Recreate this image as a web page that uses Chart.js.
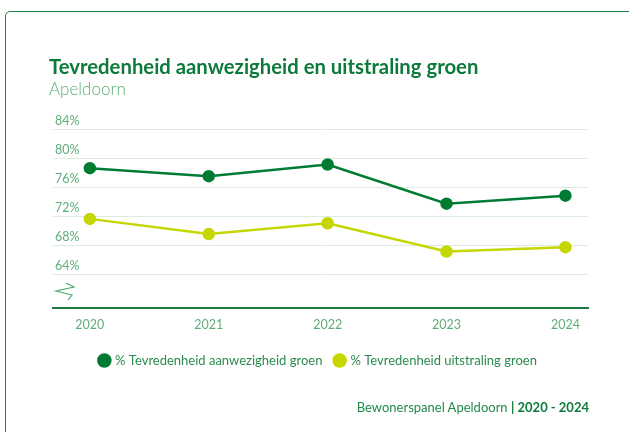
<!DOCTYPE html>
<html>
<head>
<meta charset="utf-8">
<script src="https://cdn.jsdelivr.net/npm/chart.js@4"></script>
<style>
  html, body { margin: 0; padding: 0; background: #fff; }
  #wrap { position: relative; width: 629px; height: 432px; overflow: hidden; }
  #card { position: absolute; left: 5px; top: 11px; width: 700px; height: 500px;
          border: 1.5px solid #1f8443; border-radius: 5px; box-sizing: border-box; }
  #chart { position: absolute; left: 0; top: 0; }
  #footer { position: absolute; right: 40px; top: 399px; font: 13px Lato, sans-serif; color: #1f8a4a; }
  #footer b { color: #0b7a3a; }
</style>
</head>
<body>
<div id="wrap">
  <div id="card"></div>
  <canvas id="chart" width="629" height="432"></canvas>
  <div id="footer">Bewonerspanel Apeldoorn <b>| 2020 - 2024</b></div>
</div>
<script>
// data
const years = [2020, 2021, 2022, 2023, 2024];
const aanwezigheid = [78.7, 77.6, 79.2, 73.8, 74.9];
const uitstraling = [71.7, 69.6, 71.1, 67.2, 67.8];
const yTicks = [64, 68, 72, 76, 80, 84];
const seriesNames = ['% Tevredenheid aanwezigheid groen', '% Tevredenheid uitstraling groen'];

const toPoints = vals => years.map((y, i) => ({ x: y, y: vals[i] }));

// zigzag "axis break" mark near the bottom of the y axis
const breakMark = {
  id: 'breakMark',
  afterDraw(chart) {
    const ctx = chart.ctx, a = chart.chartArea;
    const x = a.left, y = a.bottom;
    ctx.save();
    ctx.strokeStyle = '#4fa86c';
    ctx.lineWidth = 1.2;
    ctx.beginPath();
    ctx.moveTo(x + 13, y - 25);
    ctx.lineTo(x + 21, y - 21);
    ctx.lineTo(x + 3, y - 17);
    ctx.lineTo(x + 19, y - 13);
    ctx.lineTo(x + 15, y - 8);
    ctx.stroke();
    ctx.restore();
  }
};

new Chart(document.getElementById('chart'), {
  type: 'line',
  data: {
    datasets: [
      { label: seriesNames[0], data: toPoints(aanwezigheid), borderColor: '#007b32', backgroundColor: '#007b32',
        borderWidth: 2.5, pointRadius: 5, pointHoverRadius: 5, tension: 0 },
      { label: seriesNames[1], data: toPoints(uitstraling), borderColor: '#c6d600', backgroundColor: '#c6d600',
        borderWidth: 2.5, pointRadius: 5, pointHoverRadius: 5, tension: 0 }
    ]
  },
  options: {
    responsive: false,
    animation: false,
    layout: { padding: { left: 49, right: 41, top: 55, bottom: 55 } },
    plugins: {
      title: {
        display: true, align: 'start',
        text: 'Tevredenheid aanwezigheid en uitstraling groen',
        color: '#0c7a3a', font: { family: 'Lato', size: 20.3, weight: 'bold' },
        padding: { top: 0, bottom: 0 }
      },
      subtitle: {
        display: true, align: 'start', text: 'Apeldoorn',
        color: '#5cae74', font: { family: 'Lato', size: 17, weight: '300' },
        padding: { top: 0, bottom: 30 }
      },
      legend: {
        position: 'bottom',
        labels: {
          usePointStyle: true, pointStyle: 'circle', boxWidth: 8.5, boxHeight: 8.5,
          color: '#2a8b4f', font: { family: 'Lato', size: 13 }, padding: 13
        }
      },
      tooltip: { enabled: false }
    },
    scales: {
      x: {
        type: 'linear', min: 2019.69, max: 2024.19,
        afterBuildTicks: s => { s.ticks = years.map(v => ({ value: v })); },
        grid: { display: false, drawTicks: false },
        border: { color: '#1e7b3f', width: 2 },
        ticks: { color: '#5fae7a', font: { family: 'Lato', size: 12.5 }, padding: 9,
                 callback: v => String(v) }
      },
      y: {
        min: 59.4, max: 84,
        afterBuildTicks: s => { s.ticks = yTicks.map(v => ({ value: v })); },
        grid: { color: '#dcebe2', lineWidth: 1, drawTicks: false },
        border: { display: false },
        ticks: { mirror: true, padding: 2, labelOffset: -9, color: '#5fae7a',
                 font: { family: 'Lato', size: 12.5 }, callback: v => v + '%' }
      }
    }
  },
  plugins: [breakMark]
});
</script>
</body>
</html>
